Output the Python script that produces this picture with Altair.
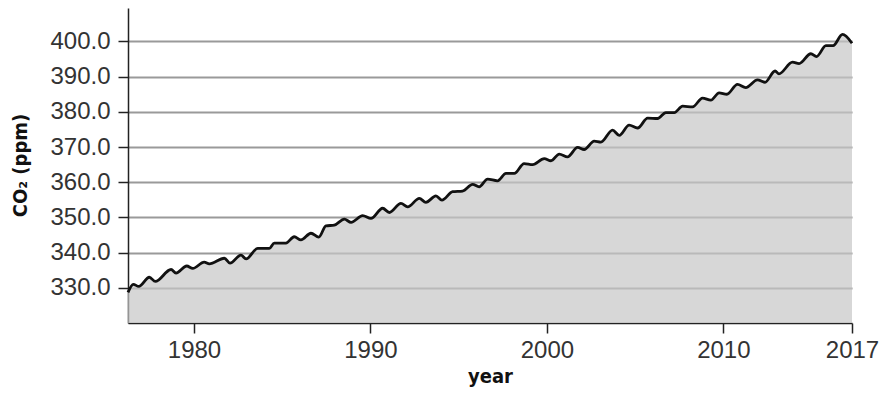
import altair as alt
import pandas as pd

# CO2 readings (peaks / troughs of the seasonal cycle)
years = [
    1976.26, 1976.56, 1976.87, 1977.47, 1977.81, 1978.70, 1978.98, 1979.59, 1979.93,
    1980.58, 1980.87, 1981.72, 1982.04, 1982.66, 1982.95, 1983.61, 1984.27, 1984.55,
    1985.21, 1985.68, 1986.06, 1986.63, 1987.07, 1987.48, 1987.95, 1988.52, 1988.90,
    1989.56, 1990.03, 1990.69, 1991.07, 1991.73, 1992.11, 1992.77, 1993.14, 1993.71,
    1994.05, 1994.66, 1995.22, 1995.79, 1996.16, 1996.64, 1997.20, 1997.68, 1998.15,
    1998.71, 1999.19, 1999.85, 2000.23, 2000.70, 2001.17, 2001.74, 2002.11, 2002.68,
    2003.06, 2003.72, 2004.10, 2004.66, 2005.14, 2005.71, 2006.27, 2006.74, 2007.22,
    2007.69, 2008.25, 2008.82, 2009.29, 2009.76, 2010.20, 2010.80, 2011.27, 2011.93,
    2012.36, 2012.93, 2013.15, 2013.92, 2014.29, 2014.96, 2015.28, 2015.81, 2016.22,
    2016.75, 2017.29,
]
co2 = [
    328.7, 331.0, 330.4, 333.0, 331.8, 335.2, 334.2, 336.2, 335.5,
    337.3, 336.8, 338.4, 337.0, 339.3, 338.2, 341.2, 341.2, 342.7,
    342.7, 344.5, 343.6, 345.5, 344.4, 347.6, 347.8, 349.5, 348.6,
    350.5, 349.7, 352.6, 351.4, 354.0, 353.0, 355.4, 354.3, 356.1,
    354.9, 357.3, 357.5, 359.4, 358.7, 360.9, 360.4, 362.5, 362.5,
    365.3, 365.0, 366.7, 366.1, 368.0, 367.2, 369.9, 369.3, 371.7,
    371.4, 374.8, 373.3, 376.2, 375.4, 378.2, 378.1, 379.8, 379.8,
    381.6, 381.4, 383.9, 383.3, 385.4, 385.0, 387.8, 386.9, 389.1,
    388.4, 391.6, 390.8, 394.1, 393.7, 396.5, 395.7, 398.8, 398.8,
    402.0, 399.5,
]
x_ticks = [1980, 1990, 2000, 2010, 2017.29]
y_ticks = [330, 340, 350, 360, 370, 380, 390, 400]
x_domain = [1976.26, 2017.29]
y_domain = [320, 409.5]

df = pd.DataFrame({"year": years, "co2": co2})

LABEL_FONT = "Liberation Sans"
TITLE_FONT = "DejaVu Sans Condensed, Liberation Sans Narrow, DejaVu Sans"

x_enc = alt.X(
    "year:Q",
    scale=alt.Scale(domain=x_domain, nice=False, zero=False),
    axis=alt.Axis(
        values=x_ticks,
        labelExpr="'' + round(datum.value)",
        grid=False,
        domainColor="#222222", domainWidth=1.5,
        tickColor="#222222", tickWidth=1.5, tickSize=10,
        labelFont=LABEL_FONT, labelFontSize=24, labelColor="#333333",
        labelPadding=5, labelFlush=False,
        title="year",
        titleFont=TITLE_FONT, titleFontSize=20, titleFontWeight="bold",
        titleColor="#111111", titleY=59, titleBaseline="alphabetic",
    ),
)
y_enc = alt.Y(
    "co2:Q",
    scale=alt.Scale(domain=y_domain, nice=False, zero=False, clamp=True),
    axis=alt.Axis(
        values=y_ticks,
        format=".1f",
        grid=True, gridColor="#9a9a9a", gridWidth=2,
        domainColor="#222222", domainWidth=1.5,
        tickColor="#222222", tickWidth=1.5, tickSize=10,
        labelFont=LABEL_FONT, labelFontSize=24, labelColor="#333333",
        labelPadding=8,
        title="CO₂ (ppm)",
        titleFont=TITLE_FONT, titleFontSize=20, titleFontWeight="bold",
        titleColor="#111111", titleAngle=270, titleX=-108, titleY=157,
        titleAlign="center", titleBaseline="middle",
    ),
)

area = alt.Chart(df).mark_area(
    color="#c6c6c6", opacity=0.7, interpolate="monotone"
).encode(x=x_enc, y=y_enc, y2=alt.datum(y_domain[0]))

line = alt.Chart(df).mark_line(
    color="#111111", strokeWidth=2.8, interpolate="monotone"
).encode(x="year:Q", y="co2:Q")

chart = (
    alt.layer(area, line)
    .properties(
        width=724, height=315,
        padding={"left": 120, "top": 0, "right": 28, "bottom": 64},
        autosize=alt.AutoSizeParams(type="none"),
        background="white",
    )
    .configure_view(stroke=None)
)

chart.save("out.html", embed_options={"renderer": "svg", "actions": False})
